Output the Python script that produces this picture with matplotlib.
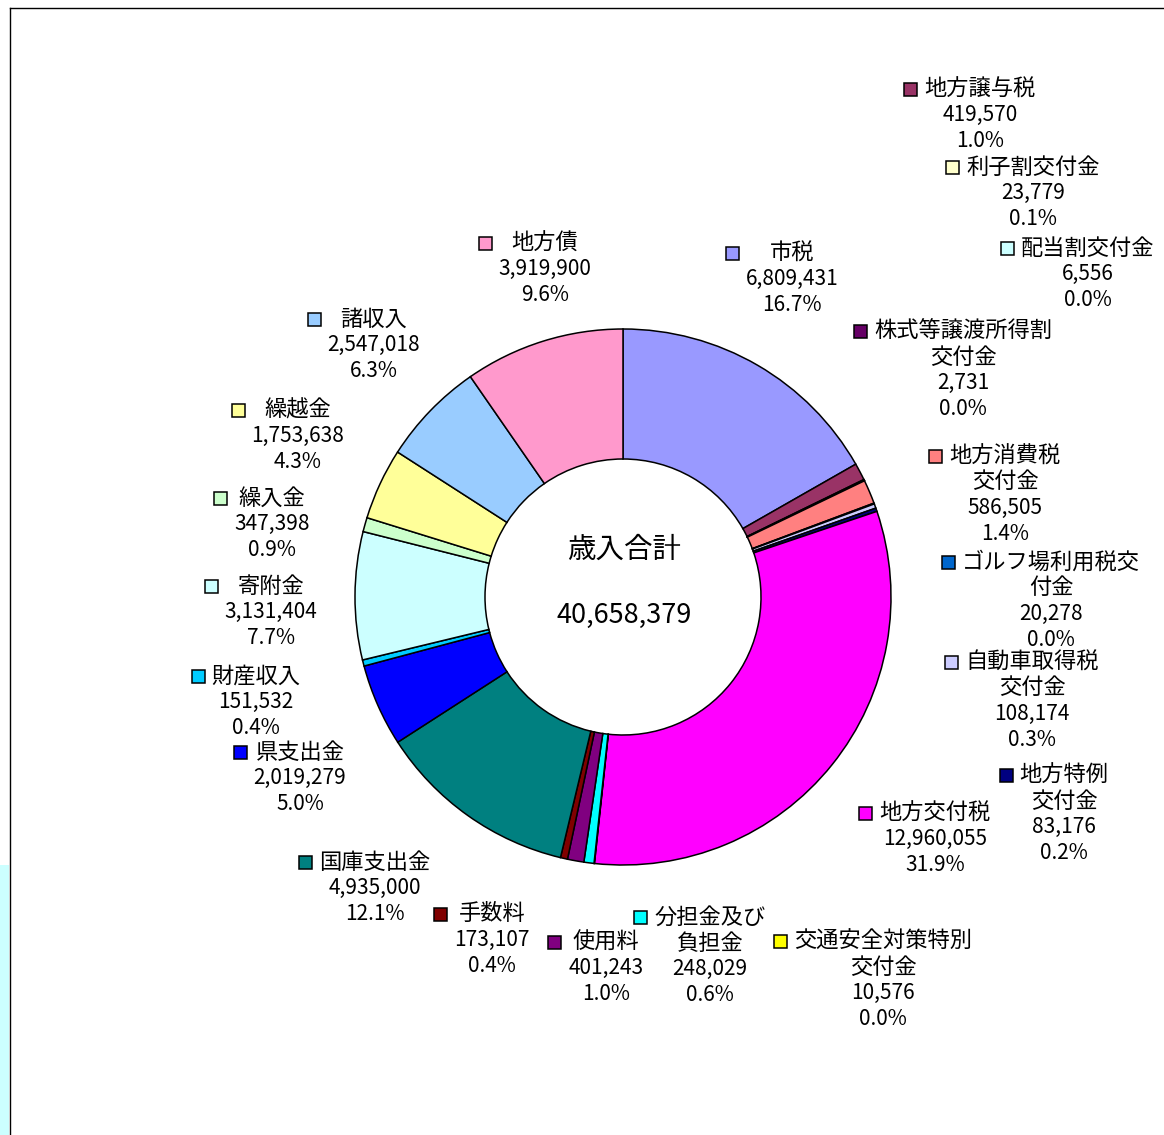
import matplotlib.pyplot as plt
from matplotlib.patches import Rectangle

plt.rcParams['font.family'] = ['Noto Sans CJK JP', 'DejaVu Sans']

# 歳入の内訳（時計回り、12時から）
categories = [
    "市税", "地方譲与税", "利子割交付金", "配当割交付金",
    "株式等譲渡所得割交付金", "地方消費税交付金", "ゴルフ場利用税交付金",
    "自動車取得税交付金", "地方特例交付金", "地方交付税",
    "交通安全対策特別交付金", "分担金及び負担金", "使用料", "手数料",
    "国庫支出金", "県支出金", "財産収入", "寄附金", "繰入金", "繰越金",
    "諸収入", "地方債",
]
values = [
    6809431, 419570, 23779, 6556,
    2731, 586505, 20278,
    108174, 83176, 12960055,
    10576, 248029, 401243, 173107,
    4935000, 2019279, 151532, 3131404, 347398, 1753638,
    2547018, 3919900,
]
# ラベル表示用（折り返し位置は元の図のとおり）
label_names = [
    "市税", "地方譲与税", "利子割交付金", "配当割交付金",
    "株式等譲渡所得割\n交付金", "地方消費税\n交付金", "ゴルフ場利用税交\n付金",
    "自動車取得税\n交付金", "地方特例\n交付金", "地方交付税",
    "交通安全対策特別\n交付金", "分担金及び\n負担金", "使用料", "手数料",
    "国庫支出金", "県支出金", "財産収入", "寄附金", "繰入金", "繰越金",
    "諸収入", "地方債",
]
colors = [
    "#9999FF", "#993366", "#FFFFCC", "#CCFFFF",
    "#660066", "#FF8080", "#0066CC",
    "#CCCCFF", "#000080", "#FF00FF",
    "#FFFF00", "#00FFFF", "#800080", "#800000",
    "#008080", "#0000FF", "#00CCFF", "#CCFFFF", "#CCFFCC", "#FFFF99",
    "#99CCFF", "#FF99CC",
]

total_label = "歳入合計"

# ラベルの配置（画像ピクセル: 中心x, 1行目のy）
label_pos = [
    (792, 253), (980, 89), (1033, 167), (1088, 248),
    (963, 331), (1005, 456), (1051, 562),
    (1032, 662), (1064, 775), (935, 813),
    (883, 941), (710, 917), (606, 942), (492, 914),
    (375, 862), (300, 752), (256, 676), (271, 586), (272, 498), (298, 410),
    (374, 319), (545, 243),
]

W, H = 1164, 1135
LINE = 26


def Y(y):
    return H - y


def main():
    total = sum(values)

    fig = plt.figure(figsize=(W / 100, H / 100), dpi=100)
    ax = fig.add_axes([0, 0, 1, 1])

    ax.pie(values, colors=colors, startangle=90, counterclock=False,
           radius=268, center=(623, Y(597)),
           wedgeprops=dict(width=130, edgecolor="black", linewidth=1.1))

    ax.set_xlim(0, W)
    ax.set_ylim(0, H)
    ax.set_aspect("auto")
    ax.axis("off")

    # 枠
    ax.plot([10, W], [Y(8), Y(8)], color="black", lw=1)
    ax.plot([10, 10], [Y(8), 0], color="black", lw=1)
    ax.add_patch(Rectangle((0, 0), 9, Y(865), facecolor="#CCFFFF",
                           edgecolor="none"))

    # 中央
    ax.text(624, Y(550), total_label, ha="center", va="center", fontsize=20.5)
    ax.text(624, Y(615), f"{total:,}", ha="center", va="center", fontsize=19.5)

    renderer = fig.canvas.get_renderer()
    for name, v, c, (cx, y1) in zip(label_names, values, colors, label_pos):
        name_lines = name.split("\n")
        lines = name_lines + [f"{v:,}", f"{v / total * 100:.1f}%"]
        texts = []
        for i, line in enumerate(lines):
            fs = 16 if i < len(name_lines) else 15
            t = ax.text(cx, Y(y1 + LINE * i), line, ha="center", va="center",
                        fontsize=fs)
            texts.append(t)
        left = min(t.get_window_extent(renderer).x0 for t in texts)
        size = 13
        ax.add_patch(Rectangle((left - 7 - size, Y(y1) - size / 2), size, size,
                               facecolor=c, edgecolor="black", lw=1.1))

    fig.savefig("out.png", dpi=100)
    plt.close(fig)


if __name__ == "__main__":
    main()
